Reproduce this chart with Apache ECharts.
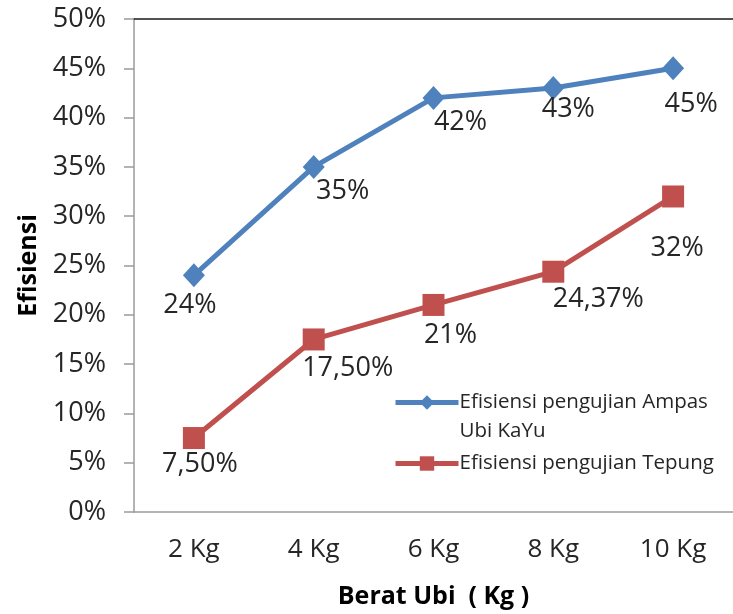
<!DOCTYPE html>
<html>
<head>
<meta charset="utf-8">
<script src="https://cdn.jsdelivr.net/npm/echarts@6/dist/echarts.min.js"></script>
<style>
  html, body { margin: 0; padding: 0; background: #fff; }
  #chart { width: 733px; height: 614px; }
</style>
</head>
<body>
<div id="chart"></div>
<script>
// Tuber weight categories on the x axis
const categories = ['2 Kg', '4 Kg', '6 Kg', '8 Kg', '10 Kg'];

// Efficiency (%) for each test
const ampasValues = [24, 35, 42, 43, 45];
const tepungValues = [7.5, 17.5, 21, 24.37, 32];

const ampasName = 'Efisiensi pengujian Ampas Ubi KaYu';
const tepungName = 'Efisiensi pengujian Tepung';

// Value label offsets (pixels from each marker's centre)
const ampasLabelOffsets = [[-4, 30], [29, 24], [27, 24], [15, 21], [18, 36]];
const tepungLabelOffsets = [[6, 26], [34, 29], [17, 30], [45, 28], [4, 52]];

const FONT = 'Open Sans';

function pct(v) {
  const s = Number.isInteger(v) ? String(v) : v.toFixed(2).replace('.', ',');
  return s + '%';
}

function withLabels(values, offsets) {
  return values.map((v, i) => ({
    value: v,
    label: { offset: offsets[i] }
  }));
}

const labelStyle = {
  show: true,
  position: 'inside',
  formatter: p => pct(p.value),
  fontFamily: FONT,
  fontSize: 27,
  color: '#262626'
};

const chart = echarts.init(document.getElementById('chart'), null, { renderer: 'canvas' });

chart.setOption({
  animation: false,
  backgroundColor: '#fff',
  grid: { left: 134, top: 19, width: 607, height: 493, containLabel: false },
  legend: {
    orient: 'vertical',
    left: 393,
    top: 359,
    padding: 0,
    itemWidth: 63,
    itemHeight: 18,
    itemGap: 3,
    data: [ampasName, tepungName],
    lineStyle: { width: 5 },
    formatter: name => name === ampasName
      ? ' \nEfisiensi pengujian Ampas\nUbi KaYu'
      : name,
    textStyle: {
      fontFamily: FONT,
      fontSize: 20.5,
      lineHeight: 29,
      color: '#262626',
      padding: [0, 0, 0, -4]
    }
  },
  xAxis: [
    {
      type: 'category',
      data: categories,
      position: 'bottom',
      boundaryGap: true,
      axisLine: { lineStyle: { color: '#9a9a9a', width: 1.5 } },
      axisTick: { show: false },
      axisLabel: {
        fontFamily: FONT, fontSize: 26, color: '#262626', margin: 25
      },
      name: 'Berat Ubi  ( Kg )',
      nameLocation: 'middle',
      nameGap: 72,
      nameTextStyle: {
        fontFamily: FONT, fontSize: 25, fontWeight: 'bold', color: '#000'
      }
    },
    {
      type: 'category',
      data: categories,
      position: 'top',
      axisLine: { lineStyle: { color: '#1a1a1a', width: 1.5 } },
      axisTick: { show: false },
      axisLabel: { show: false }
    }
  ],
  yAxis: {
    type: 'value',
    min: 0,
    max: 50,
    interval: 5,
    axisLine: { show: true, lineStyle: { color: '#9a9a9a', width: 1.5 } },
    axisTick: { show: true, inside: false, length: 10, lineStyle: { color: '#9a9a9a', width: 1.5 } },
    splitLine: { show: false },
    axisLabel: {
      formatter: '{value}%',
      fontFamily: FONT, fontSize: 27, color: '#262626', margin: 28
    },
    name: 'Efisiensi',
    nameLocation: 'middle',
    nameGap: 93,
    nameRotate: 90,
    nameTextStyle: {
      fontFamily: FONT, fontSize: 25, fontWeight: 'bold', color: '#000'
    }
  },
  series: [
    {
      name: ampasName,
      type: 'line',
      xAxisIndex: 0,
      data: withLabels(ampasValues, ampasLabelOffsets),
      symbol: 'diamond',
      symbolSize: [22, 24],
      lineStyle: { color: '#4F81BD', width: 5 },
      itemStyle: { color: '#4F81BD' },
      label: labelStyle,
      z: 3
    },
    {
      name: tepungName,
      type: 'line',
      xAxisIndex: 0,
      data: withLabels(tepungValues, tepungLabelOffsets),
      symbol: 'rect',
      symbolSize: 22,
      lineStyle: { color: '#C0504D', width: 5 },
      itemStyle: { color: '#C0504D' },
      label: labelStyle,
      z: 2
    }
  ]
});
</script>
</body>
</html>
